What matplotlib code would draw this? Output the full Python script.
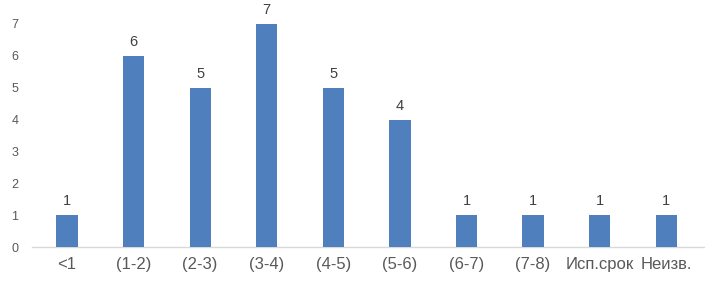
import matplotlib
matplotlib.use("Agg")
import matplotlib.pyplot as plt

categories = ["<1", "(1-2)", "(2-3)", "(3-4)", "(4-5)", "(5-6)", "(6-7)", "(7-8)", "Исп.срок", "Неизв."]
values = [1, 6, 5, 7, 5, 4, 1, 1, 1, 1]
yticks = [0, 1, 2, 3, 4, 5, 6, 7]

plt.rcParams['font.family'] = ['Liberation Sans', 'DejaVu Sans']
text_color = "#595959"
bar_color = "#4F7FBC"

fig = plt.figure(figsize=(7.05, 2.85), dpi=100)
ax = fig.add_axes([0.0478, 0.1333, 0.9445, 0.7825])
x = list(range(len(categories)))
bars = ax.bar(x, values, width=0.32, color=bar_color, zorder=3)
ax.set_xlim(-0.5, len(categories) - 0.5)
ax.set_ylim(0, 7)
ax.set_yticks(yticks)
ax.set_xticks(x)
ax.set_xticklabels(categories, fontsize=12, color=text_color)
ax.tick_params(axis='y', length=0, pad=11, labelsize=9, labelcolor=text_color)
ax.tick_params(axis='x', length=0, pad=7)
for s in ['top', 'right', 'left']:
    ax.spines[s].set_visible(False)
ax.spines['bottom'].set_color("#D9D9D9")
ax.spines['bottom'].set_linewidth(1)
ax.spines['bottom'].set_bounds(-0.52, len(categories) - 0.42)
ax.spines['bottom'].set_clip_on(False)
for b, v in zip(bars, values):
    ax.annotate(str(v), (b.get_x() + b.get_width() / 2, v), xytext=(0, 5),
                textcoords='offset points', ha='center', va='bottom',
                fontsize=10.5, color="#404040", annotation_clip=False)
fig.savefig("out.png", dpi=100)
